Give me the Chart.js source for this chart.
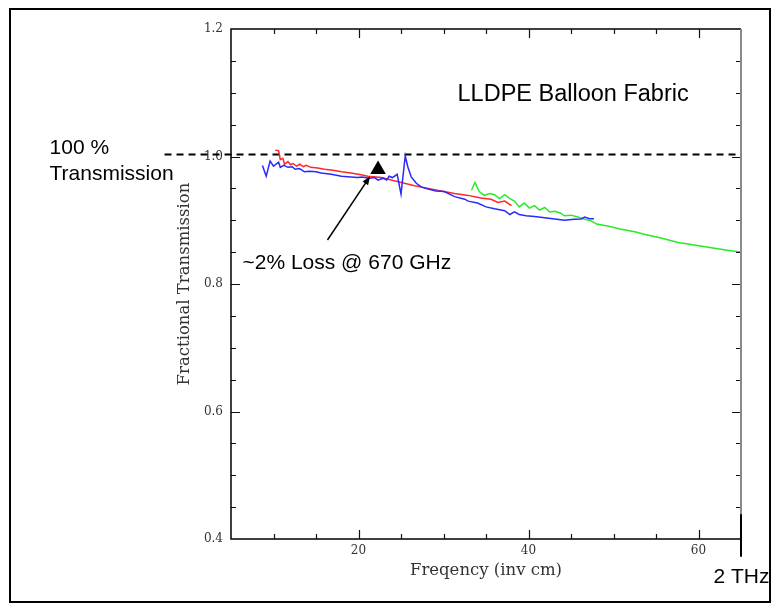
<!DOCTYPE html>
<html>
<head>
<meta charset="utf-8">
<script src="https://cdn.jsdelivr.net/npm/chart.js@4.4.1/dist/chart.umd.min.js"></script>
<style>
html, body { margin: 0; padding: 0; background: #fff; }
#wrap { position: relative; width: 779px; height: 611px; }
#frame { position: absolute; left: 9px; top: 8px; width: 758px; height: 591px; border: 2px solid #000; pointer-events: none; }
canvas { position: absolute; left: 0; top: 0; }
</style>
</head>
<body>
<div id="wrap">
    <canvas id="chart" width="779" height="611"></canvas>
    <div id="frame"></div>
</div>
<script>
// LLDPE balloon fabric — fractional transmission vs frequency (inv cm)

// [frequency, transmission]
const blueSeries = [
    [8.7, 0.986], [9.14, 0.969], [9.6, 0.993], [10.0, 0.985], [10.6, 0.991], [10.8, 0.983],
    [11.2, 0.986], [11.7, 0.983], [12.2, 0.984], [12.55, 0.980], [13.06, 0.981], [13.65, 0.976],
    [14.2, 0.977], [15.0, 0.976], [15.6, 0.974], [16.8, 0.972], [18.0, 0.969], [19.1, 0.968],
    [19.9, 0.967], [20.4, 0.968], [21.3, 0.966], [21.9, 0.967], [22.3, 0.963], [22.9, 0.966],
    [23.3, 0.963], [23.6, 0.969], [24.0, 0.967], [24.55, 0.972], [25.0, 0.941], [25.5, 1.001],
    [25.8, 0.984], [26.2, 0.968], [26.8, 0.958], [27.4, 0.952], [28.2, 0.949], [29.1, 0.946],
    [30.1, 0.945], [31.3, 0.937], [32.5, 0.933], [32.9, 0.930], [34.0, 0.927], [35.0, 0.921],
    [36.0, 0.918], [37.2, 0.915], [37.8, 0.909], [38.35, 0.913], [38.9, 0.909], [39.7, 0.907],
    [40.7, 0.906], [41.9, 0.904], [43.1, 0.902], [44.2, 0.900], [45.4, 0.9015], [46.2, 0.902],
    [46.6, 0.905], [47.2, 0.9025], [47.7, 0.9025],
];

const redSeries = [
    [10.2, 1.010], [10.6, 1.009], [10.8, 0.995], [11.1, 0.997], [11.3, 0.988], [11.7, 0.992],
    [12.0, 0.987], [12.3, 0.989], [12.7, 0.985], [13.1, 0.988], [13.5, 0.984], [13.85, 0.986],
    [14.4, 0.983], [15.2, 0.982], [16.0, 0.980], [17.2, 0.978], [18.0, 0.976], [19.1, 0.974],
    [20.3, 0.9715], [21.1, 0.969], [22.7, 0.967], [24.2, 0.962], [25.4, 0.958], [26.6, 0.954],
    [28.2, 0.950], [29.7, 0.946], [31.3, 0.942], [32.9, 0.939], [34.4, 0.935], [35.6, 0.933],
    [36.4, 0.928], [37.2, 0.930], [38.0, 0.923],
];

const greenSeries = [
    [33.3, 0.947], [33.7, 0.9595], [34.2, 0.945], [34.8, 0.939], [35.4, 0.942], [36.0, 0.940],
    [36.6, 0.934], [37.2, 0.940], [37.8, 0.934], [38.35, 0.930], [38.9, 0.921], [39.5, 0.927],
    [40.1, 0.919], [40.7, 0.923], [41.3, 0.916], [41.9, 0.920], [42.5, 0.913], [43.1, 0.914],
    [43.8, 0.911], [44.2, 0.907], [45.0, 0.908], [45.8, 0.905], [46.6, 0.9015], [47.4, 0.899],
    [48.0, 0.894], [49.3, 0.891], [50.9, 0.886], [52.5, 0.882], [53.6, 0.878], [55.6, 0.872],
    [57.6, 0.865], [59.5, 0.861], [61.5, 0.857], [63.4, 0.853], [65.0, 0.850],
];

// 100 % line (runs out past the left axis) and the 670 GHz marker
const fullTransmission = [[-2.82, 1.003], [65, 1.003]];
const lossMarker = [[22.3, 0.9796]];

const xTickLabels = [20, 40, 60];
const xTickMarks  = [10, 15, 20, 25, 30, 35, 40, 45, 50, 55, 60];
const yTickLabels = [0.4, 0.6, 0.8, 1.0, 1.2];
const yTickMarks  = [0.45, 0.5, 0.55, 0.6, 0.65, 0.7, 0.75, 0.8, 0.85, 0.9, 0.95, 1.0, 1.05, 1.1, 1.15];

const SANS = '"Liberation Sans", Arial, sans-serif';
const SERIF = '"DejaVu Serif", serif';

const toXY = arr => arr.map(([x, y]) => ({ x, y }));

const frameAndNotes = {
    id: 'frameAndNotes',
    afterDatasetsDraw(chart) {
        const { ctx, chartArea: a, scales: { x, y } } = chart;
        const px = v => x.getPixelForValue(v);
        const py = v => y.getPixelForValue(v);
        ctx.save();

        // inward tick marks on all four sides
        ctx.strokeStyle = '#111';
        ctx.lineWidth = 1.2;
        ctx.beginPath();
        xTickMarks.forEach(v => {
            const len = xTickLabels.includes(v) ? 9 : 5;
            const p = Math.round(px(v)) + 0.5;
            ctx.moveTo(p, a.bottom); ctx.lineTo(p, a.bottom - len);
            ctx.moveTo(p, a.top);    ctx.lineTo(p, a.top + len);
        });
        yTickMarks.forEach(v => {
            const len = yTickLabels.some(t => Math.abs(t - v) < 1e-6) ? 9 : 5;
            const p = Math.round(py(v)) + 0.5;
            ctx.moveTo(a.left, p);  ctx.lineTo(a.left + len, p);
            ctx.moveTo(a.right, p); ctx.lineTo(a.right - len, p);
        });
        ctx.stroke();

        // axis box: black left/bottom/top, grey right
        ctx.lineWidth = 1.5;
        ctx.strokeStyle = '#000';
        ctx.beginPath();
        ctx.moveTo(a.right, a.top); ctx.lineTo(a.left, a.top);
        ctx.lineTo(a.left, a.bottom); ctx.lineTo(a.right, a.bottom);
        ctx.stroke();
        ctx.strokeStyle = '#8a8a8a';
        ctx.lineWidth = 2;
        ctx.beginPath();
        ctx.moveTo(a.right, a.top); ctx.lineTo(a.right, a.bottom);
        ctx.stroke();

        // 2 THz marker below the right edge
        ctx.strokeStyle = '#000';
        ctx.lineWidth = 2;
        ctx.beginPath();
        ctx.moveTo(px(65), py(0.439)); ctx.lineTo(px(65), py(0.372));
        ctx.stroke();

        // arrow to the marker
        const x0 = px(16.35), y0 = py(0.869), x1 = px(21.35), y1 = py(0.9686);
        const ang = Math.atan2(y1 - y0, x1 - x0);
        ctx.lineWidth = 1.5;
        ctx.beginPath();
        ctx.moveTo(x0, y0);
        ctx.lineTo(x1 - Math.cos(ang) * 5, y1 - Math.sin(ang) * 5);
        ctx.stroke();
        ctx.fillStyle = '#000';
        ctx.beginPath();
        ctx.moveTo(x1, y1);
        ctx.lineTo(x1 - 9 * Math.cos(ang - 0.38), y1 - 9 * Math.sin(ang - 0.38));
        ctx.lineTo(x1 - 9 * Math.cos(ang + 0.38), y1 - 9 * Math.sin(ang + 0.38));
        ctx.closePath();
        ctx.fill();

        // text notes
        ctx.textAlign = 'left';
        ctx.textBaseline = 'alphabetic';
        ctx.font = '23.5px ' + SANS;
        ctx.fillText('LLDPE Balloon Fabric', px(31.65), py(1.087));
        ctx.font = '21px ' + SANS;
        ctx.fillText('100 %', px(-16.35), py(1.004));
        ctx.fillText('Transmission', px(-16.35), py(0.963));
        ctx.fillText('~2% Loss @ 670 GHz', px(6.35), py(0.8235));
        ctx.fillText('2 THz', px(61.76), py(0.331));

        ctx.restore();
    }
};

new Chart(document.getElementById('chart'), {
    type: 'scatter',
    data: {
        datasets: [
            {
                label: '670 GHz',
                data: toXY(lossMarker),
                pointStyle: 'triangle',
                pointRadius: 9,
                backgroundColor: '#000',
                borderColor: '#000',
                borderWidth: 0,
            },
            {
                label: 'Run A',
                data: toXY(blueSeries),
                showLine: true,
                borderColor: 'rgb(40,40,255)',
                borderWidth: 1.5,
                pointRadius: 0,
            },
            {
                label: 'Run B',
                data: toXY(redSeries),
                showLine: true,
                borderColor: 'rgb(255,40,40)',
                borderWidth: 1.5,
                pointRadius: 0,
            },
            {
                label: 'Run C',
                data: toXY(greenSeries),
                showLine: true,
                borderColor: 'rgb(40,235,40)',
                borderWidth: 1.5,
                pointRadius: 0,
            },
            {
                label: '100 %',
                data: toXY(fullTransmission),
                showLine: true,
                borderColor: '#000',
                borderWidth: 2,
                borderDash: [7, 5],
                pointRadius: 0,
                clip: false,
            },
        ],
    },
    options: {
        responsive: false,
        animation: false,
        layout: { padding: { left: 170, right: 38, top: 29, bottom: 0 } },
        plugins: {
            legend: { display: false },
            tooltip: { enabled: false },
        },
        scales: {
            x: {
                type: 'linear',
                min: 5,
                max: 65,
                grid: { display: false, drawTicks: false },
                border: { display: false },
                afterBuildTicks: s => { s.ticks = xTickLabels.map(v => ({ value: v })); },
                afterFit: s => { s.height = 72; },
                ticks: {
                    autoSkip: false,
                    maxRotation: 0,
                    padding: 5,
                    color: '#333',
                    font: { family: SERIF, size: 12 },
                },
                title: {
                    display: true,
                    text: 'Freqency (inv cm)',
                    color: '#333',
                    font: { family: SERIF, size: 16.5 },
                    padding: { top: 0, bottom: 30 },
                },
            },
            y: {
                type: 'linear',
                min: 0.4,
                max: 1.2,
                grid: { display: false, drawTicks: false },
                border: { display: false },
                afterBuildTicks: s => { s.ticks = yTickLabels.map(v => ({ value: v })); },
                afterFit: s => { s.width = 61; },
                ticks: {
                    autoSkip: false,
                    padding: 8,
                    color: '#333',
                    font: { family: SERIF, size: 12 },
                    callback: v => Number(v).toFixed(1),
                },
                title: {
                    display: true,
                    text: 'Fractional Transmission',
                    color: '#333',
                    font: { family: SERIF, size: 16.5 },
                    padding: { top: 5, bottom: 0 },
                },
            },
        },
    },
    plugins: [frameAndNotes],
});
</script>
</body>
</html>
